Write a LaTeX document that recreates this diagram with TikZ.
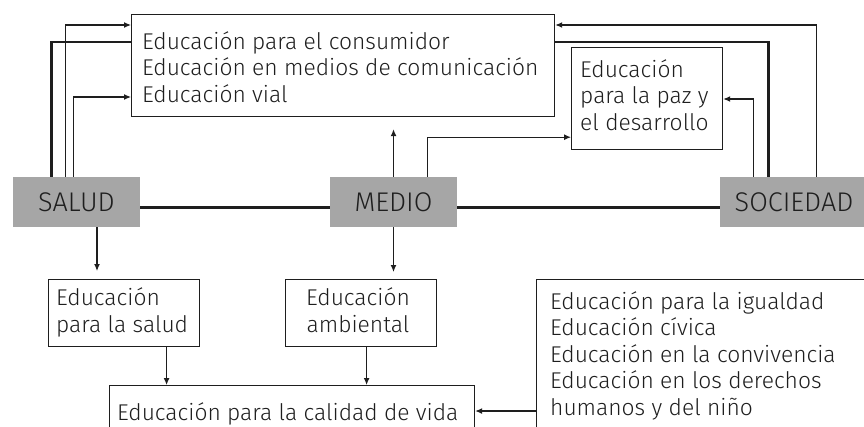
\documentclass[tikz,border=0pt]{standalone}
\usepackage{fontspec}
\setmainfont{Fira Sans Light}
\usetikzlibrary{arrows.meta}
\definecolor{boxgray}{RGB}{166,166,166}
\definecolor{ink}{RGB}{30,30,30}
\begin{document}
\begin{tikzpicture}[x=1pt,y=-1pt,
  txt/.style={inner sep=0pt, align=left, font=\fontsize{22.8}{26.4}\selectfont, text=ink},
  frame/.style={draw=ink, line width=1.2pt, inner sep=0pt},
  hub/.style={fill=boxgray, inner sep=0pt, minimum height=50pt, font=\fontsize{27}{30}\selectfont, text=ink},
  thinline/.style={draw=ink, line width=1.2pt},
  thickline/.style={draw=ink, line width=2.8pt},
  arr/.style={thinline, -{Latex[length=7pt,width=6pt]}}
]
\clip (0,0) rectangle (864,426);
% hubs
\node[hub, minimum width=127pt] (salud) at (76.5,202) {SALUD};
\node[hub, minimum width=127pt] (medio) at (393.5,202) {MEDIO};
\node[hub, minimum width=148pt] (sociedad) at (794,202) {SOCIEDAD};
% frames
\node[frame, anchor=north west, minimum width=423pt, minimum height=102pt] (top) at (131,14) {};
\node[txt, anchor=base west] (toptxt) at (142,102) {Educación para el consumidor\\Educación en medios de comunicación\\Educación vial};
\node[frame, anchor=north west, minimum width=151pt, minimum height=102pt] (peace) at (571,47) {};
\node[txt, anchor=base west] (peacetxt) at (580,130) {Educación\\para la paz y\\el desarrollo};
\node[frame, anchor=north west, minimum width=151pt, minimum height=67pt] (sbox) at (48,279) {};
\node[txt, anchor=base west] (sboxtxt) at (56,332) {Educación\\para la salud};
\node[frame, anchor=north west, minimum width=151pt, minimum height=67pt] (abox) at (285,279) {};
\node[txt, align=center, anchor=base] (aboxtxt) at (358,332) {Educación\\ambiental};
\node[frame, anchor=north west, minimum width=365pt, minimum height=60pt] (calidad) at (109,385) {};
\node[txt, anchor=base west] (calidadtxt) at (117,420) {Educación para la calidad de vida};
\node[frame, anchor=north west, minimum width=340pt, minimum height=160pt] (rbox) at (536,279) {};
\node[txt, anchor=base west] (rboxtxt) at (550,415) {Educación para la igualdad\\Educación cívica\\Educación en la convivencia\\Educación en los derechos\\humanos y del niño};
% horizontal thick links
\draw[thickline] ([yshift=-5.5pt]salud.east) -- ([yshift=-5.5pt]medio.west);
\draw[thickline] ([yshift=-5.5pt]medio.east) -- ([yshift=-5.5pt]sociedad.west);
% salud to top
\draw[arr] ([xshift=53pt]salud.north west) |- ([yshift=-11pt]top.north west);
\draw[thickline] ([xshift=39pt]salud.north west) |- ([yshift=-28pt]top.north west);
\draw[arr] ([xshift=61pt]salud.north west) |- ([yshift=-83pt]top.north west);
% medio
\draw[arr, shorten >=12pt] (medio.north) -- (medio.north |- top.south);
\draw[arr] ([xshift=98pt]medio.north west) |- ([yshift=13pt]peace.south west);
% sociedad
\draw[arr] ([xshift=34pt]sociedad.north west) |- ([yshift=-52pt]peace.north east);
\draw[thickline] ([xshift=49pt]sociedad.north west) |- ([yshift=-28pt]top.north east);
\draw[arr] ([xshift=97pt]sociedad.north west) |- ([yshift=-11pt]top.north east);
% downward
\coordinate (sa) at ([xshift=20.5pt]salud.south);
\draw[arr, shorten >=8pt] (sa) -- (sa |- sbox.north);
\draw[arr, shorten >=7pt] (medio.south) -- (medio.south |- abox.north);
\coordinate (sb) at ([xshift=42.5pt]sbox.south);
\draw[arr] (sb) -- (sb |- calidad.north);
\coordinate (ab) at ([xshift=5.5pt]abox.south);
\draw[arr] (ab) -- (ab |- calidad.north);
\coordinate (rb) at ([yshift=-132pt]rbox.north west);
\draw[arr] (rb) -- (rb -| calidad.east);
\end{tikzpicture}
\end{document}
